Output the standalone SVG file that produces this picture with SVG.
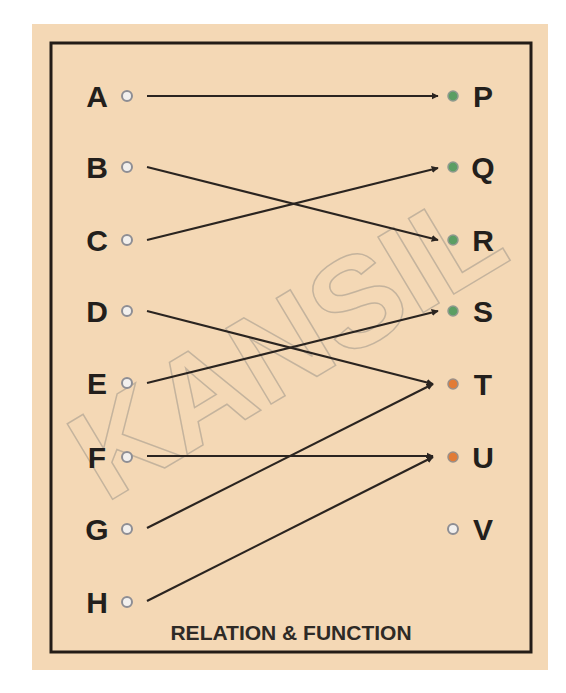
<svg xmlns="http://www.w3.org/2000/svg" width="566" height="693" viewBox="0 0 566 693">
<style>
.lbl{font-family:"Liberation Sans",Arial,sans-serif;font-weight:bold;font-size:30px;fill:#231f1c}
.title{font-family:"Liberation Sans",Arial,sans-serif;font-weight:bold;font-size:21px;fill:#2e2a26}
.wm{font-family:"Liberation Sans",Arial,sans-serif;font-weight:bold;font-size:128px;fill:none;stroke:#b9ab98;stroke-width:1.5;opacity:0.8}
.dl{fill:#f2f0ee;stroke:#8e8e94;stroke-width:2}
.dg{fill:#5b9e63;stroke:#8e9a8e;stroke-width:1.5}
.do{fill:#e27b35;stroke:#9a8f88;stroke-width:1.5}
.cn{stroke:#2a2420;stroke-width:2.2;fill:none;marker-end:url(#ah)}
</style>
<defs>
<marker id="ah" viewBox="0 0 10 10" refX="9" refY="5" markerWidth="3.2" markerHeight="3.2" orient="auto" markerUnits="strokeWidth">
<path d="M0,0 L10,5 L0,10 z" fill="#2a2420"/>
</marker>
</defs>
<rect width="566" height="693" fill="#ffffff"/>
<rect x="32" y="24" width="516" height="646" fill="#f4d8b5"/>
<rect x="51" y="43" width="480" height="609" fill="none" stroke="#231c17" stroke-width="3"/>
<text class="wm" transform="translate(292,352) rotate(-31)" text-anchor="middle" dominant-baseline="middle">KANSIL</text>
<g id="connectors">
<line class="cn" x1="147" y1="96" x2="438" y2="96"/>
<line class="cn" x1="147" y1="167" x2="438" y2="240"/>
<line class="cn" x1="147" y1="240" x2="438" y2="168"/>
<line class="cn" x1="147" y1="311" x2="433" y2="384"/>
<line class="cn" x1="147" y1="383" x2="438" y2="311"/>
<line class="cn" x1="147" y1="456" x2="433" y2="456"/>
<line class="cn" x1="147" y1="528" x2="433" y2="384"/>
<line class="cn" x1="147" y1="601" x2="433" y2="457"/>
</g>
<g id="node-A"><text class="lbl" x="97" y="107" text-anchor="middle">A</text><circle class="dl" cx="127" cy="96" r="5"/></g>
<g id="node-B"><text class="lbl" x="97" y="178" text-anchor="middle">B</text><circle class="dl" cx="127" cy="167" r="5"/></g>
<g id="node-C"><text class="lbl" x="97" y="251" text-anchor="middle">C</text><circle class="dl" cx="127" cy="240" r="5"/></g>
<g id="node-D"><text class="lbl" x="97" y="322" text-anchor="middle">D</text><circle class="dl" cx="127" cy="311" r="5"/></g>
<g id="node-E"><text class="lbl" x="97" y="394" text-anchor="middle">E</text><circle class="dl" cx="127" cy="383" r="5"/></g>
<g id="node-F"><text class="lbl" x="97" y="468" text-anchor="middle">F</text><circle class="dl" cx="127" cy="457" r="5"/></g>
<g id="node-G"><text class="lbl" x="97" y="540" text-anchor="middle">G</text><circle class="dl" cx="127" cy="529" r="5"/></g>
<g id="node-H"><text class="lbl" x="97" y="613" text-anchor="middle">H</text><circle class="dl" cx="127" cy="602" r="5"/></g>
<g id="node-P"><circle class="dg" cx="453" cy="96" r="5"/><text class="lbl" x="483" y="107" text-anchor="middle">P</text></g>
<g id="node-Q"><circle class="dg" cx="453" cy="167" r="5"/><text class="lbl" x="483" y="178" text-anchor="middle">Q</text></g>
<g id="node-R"><circle class="dg" cx="453" cy="240" r="5"/><text class="lbl" x="483" y="251" text-anchor="middle">R</text></g>
<g id="node-S"><circle class="dg" cx="453" cy="311" r="5"/><text class="lbl" x="483" y="322" text-anchor="middle">S</text></g>
<g id="node-T"><circle class="do" cx="453" cy="384" r="5"/><text class="lbl" x="483" y="395" text-anchor="middle">T</text></g>
<g id="node-U"><circle class="do" cx="453" cy="457" r="5"/><text class="lbl" x="483" y="468" text-anchor="middle">U</text></g>
<g id="node-V"><circle class="dl" cx="453" cy="529" r="5"/><text class="lbl" x="483" y="540" text-anchor="middle">V</text></g>
<text class="title" x="291" y="640" text-anchor="middle">RELATION &amp; FUNCTION</text>
</svg>
